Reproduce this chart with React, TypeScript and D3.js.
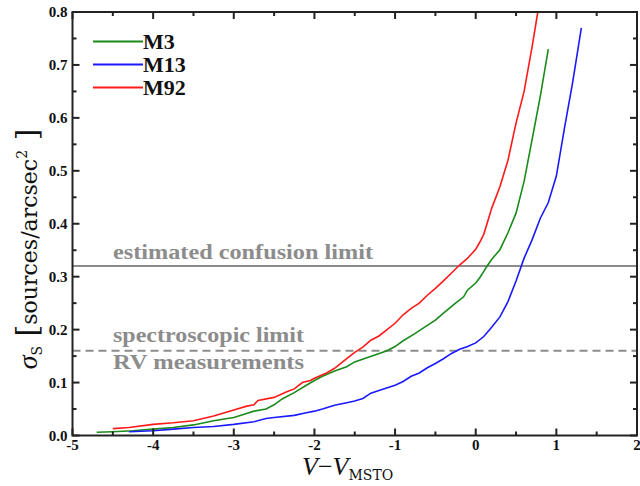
import React from "react";
import * as d3 from "d3";

const m92X = [-4.5, -4.3, -4.0, -3.75, -3.5, -3.25, -3.0, -2.85, -2.75, -2.7, -2.5, -2.35, -2.25, -2.15, -2.05, -2.0, -1.85, -1.75, -1.6, -1.5, -1.4, -1.3, -1.2, -1.1, -1.0, -0.9, -0.8, -0.7, -0.6, -0.5, -0.4, -0.3, -0.2, -0.1, 0.0, 0.05, 0.1, 0.2, 0.3, 0.4, 0.5, 0.6, 0.7, 0.77];
const m92Y = [0.013, 0.015, 0.021, 0.024, 0.028, 0.037, 0.048, 0.055, 0.058, 0.066, 0.072, 0.082, 0.088, 0.1, 0.104, 0.108, 0.118, 0.127, 0.145, 0.157, 0.167, 0.18, 0.188, 0.2, 0.212, 0.228, 0.24, 0.25, 0.265, 0.278, 0.292, 0.307, 0.322, 0.335, 0.352, 0.365, 0.38, 0.43, 0.47, 0.52, 0.59, 0.65, 0.735, 0.8];

const m3X = [-4.7, -4.5, -4.25, -4.0, -3.75, -3.5, -3.25, -3.0, -2.85, -2.75, -2.6, -2.5, -2.4, -2.25, -2.1, -2.0, -1.9, -1.75, -1.6, -1.5, -1.35, -1.25, -1.1, -1.0, -0.9, -0.75, -0.6, -0.5, -0.4, -0.25, -0.15, -0.1, 0.0, 0.05, 0.1, 0.15, 0.2, 0.3, 0.4, 0.5, 0.6, 0.7, 0.8, 0.9];
const m3Y = [0.006, 0.007, 0.009, 0.012, 0.015, 0.02, 0.028, 0.034, 0.041, 0.046, 0.05, 0.058, 0.069, 0.081, 0.095, 0.104, 0.112, 0.122, 0.13, 0.139, 0.147, 0.152, 0.16, 0.168, 0.179, 0.193, 0.208, 0.218, 0.231, 0.25, 0.262, 0.275, 0.288, 0.298, 0.31, 0.322, 0.333, 0.351, 0.383, 0.42, 0.48, 0.56, 0.64, 0.73];

const m13X = [-4.3, -4.0, -3.75, -3.5, -3.25, -3.0, -2.75, -2.6, -2.5, -2.25, -2.1, -2.0, -1.9, -1.75, -1.6, -1.5, -1.4, -1.3, -1.2, -1.0, -0.9, -0.8, -0.7, -0.6, -0.5, -0.4, -0.3, -0.2, -0.1, 0.0, 0.1, 0.2, 0.3, 0.4, 0.5, 0.6, 0.7, 0.8, 0.9, 1.0, 1.1, 1.2, 1.31];
const m13Y = [0.007, 0.009, 0.012, 0.015, 0.017, 0.021, 0.026, 0.032, 0.034, 0.038, 0.043, 0.046, 0.05, 0.057, 0.062, 0.065, 0.07, 0.08, 0.085, 0.095, 0.102, 0.112, 0.118, 0.128, 0.136, 0.145, 0.155, 0.163, 0.168, 0.175, 0.187, 0.205, 0.224, 0.253, 0.292, 0.335, 0.37, 0.41, 0.44, 0.49, 0.58, 0.665, 0.77];

const seriesNames = ["M3", "M13", "M92"];
const seriesColors = ["#1a8a1a", "#1a1aff", "#ff1a1a"];

const xTicks = [-5, -4, -3, -2, -1, 0, 1, 2];
const yTicks = [0.0, 0.1, 0.2, 0.3, 0.4, 0.5, 0.6, 0.7, 0.8];
const confusionLimit = 0.32;
const spectroLimit = 0.16;

export default function App() {
  const W = 640, H = 486;
  const left = 72.5, right = 637, top = 12, bottom = 435.5;
  const x = d3.scaleLinear().domain([-5, 2]).range([left, right]);
  const y = d3.scaleLinear().domain([0, 0.8]).range([bottom, top]);
  const line = d3.line<[number, number]>().x(d => x(d[0])).y(d => y(d[1]));
  const toPts = (xs: number[], ys: number[]) => xs.map((v, i) => [v, ys[i]] as [number, number]);
  const series = [toPts(m3X, m3Y), toPts(m13X, m13Y), toPts(m92X, m92Y)];

  const xMinor = d3.range(-4.5, 2, 1);
  const yMinor = d3.range(0.05, 0.8, 0.1);
  const tickFont = "'Liberation Serif', 'Times New Roman', serif";
  const wideFont = "'DejaVu Serif', serif";
  const gray = "#8c8c8c";

  return (
    <svg width={W} height={H} style={{ position: "absolute", left: 0, top: 0, background: "#fff" }}>
      {/* reference lines */}
      <line x1={left} x2={right} y1={y(confusionLimit)} y2={y(confusionLimit)} stroke={gray} strokeWidth={2} />
      <line x1={left} x2={right} y1={y(spectroLimit)} y2={y(spectroLimit)} stroke={gray} strokeWidth={2} strokeDasharray="8,5" />
      <g fontFamily={tickFont} fontWeight="bold" fontSize={21} fill={gray}>
        <text x={113} y={259} textLength={260} lengthAdjust="spacingAndGlyphs">estimated confusion limit</text>
        <text x={113} y={342} textLength={191} lengthAdjust="spacingAndGlyphs">spectroscopic limit</text>
        <text x={113} y={369} textLength={191} lengthAdjust="spacingAndGlyphs">RV measurements</text>
      </g>

      {/* curves */}
      {series.map((s, i) => (
        <path key={i} d={line(s) || ""} fill="none" stroke={seriesColors[i]} strokeWidth={1.6} />
      ))}

      {/* frame */}
      <rect x={left} y={top} width={right - left} height={bottom - top} fill="none" stroke="#222" strokeWidth={2} />

      {/* ticks */}
      <g stroke="#222" strokeWidth={2}>
        {xTicks.map(t => (
          <g key={"xt" + t}>
            <line x1={x(t)} x2={x(t)} y1={bottom} y2={bottom - 7} />
            <line x1={x(t)} x2={x(t)} y1={top} y2={top + 7} />
          </g>
        ))}
        {xMinor.map(t => (
          <g key={"xm" + t}>
            <line x1={x(t)} x2={x(t)} y1={bottom} y2={bottom - 4} />
            <line x1={x(t)} x2={x(t)} y1={top} y2={top + 4} />
          </g>
        ))}
        {yTicks.map(t => (
          <g key={"yt" + t}>
            <line x1={left} x2={left + 7} y1={y(t)} y2={y(t)} />
            <line x1={right} x2={right - 7} y1={y(t)} y2={y(t)} />
          </g>
        ))}
        {yMinor.map(t => (
          <g key={"ym" + t}>
            <line x1={left} x2={left + 4} y1={y(t)} y2={y(t)} />
            <line x1={right} x2={right - 4} y1={y(t)} y2={y(t)} />
          </g>
        ))}
      </g>

      {/* tick labels */}
      <g fontFamily={tickFont} fontWeight="bold" fontSize={15} fill="#111">
        {xTicks.map(t => (
          <text key={"xl" + t} x={x(t)} y={bottom + 14} textAnchor="middle">{t}</text>
        ))}
        {yTicks.map(t => (
          <text key={"yl" + t} x={left - 5} y={y(t) + 5} textAnchor="end">{t.toFixed(1)}</text>
        ))}
      </g>

      {/* axis titles */}
      <text x={302} y={475} fontFamily={tickFont} fontSize={26} fill="#111">
        <tspan fontStyle="italic">V</tspan>
        <tspan>−</tspan>
        <tspan fontStyle="italic">V</tspan>
        <tspan fontFamily={wideFont} fontSize={14} dy={5}>MSTO</tspan>
      </text>
      <text transform="translate(37,249) rotate(-90)" textAnchor="middle" fontFamily={wideFont} fontSize={22} fill="#111">
        <tspan fontStyle="italic" fontFamily={tickFont} fontSize={28}>σ</tspan>
        <tspan fontSize={14} dy={5}>S</tspan>
        <tspan dy={-5} fontSize={30} fontWeight="200"> [</tspan>
        <tspan>sources/arcsec</tspan>
        <tspan fontSize={14} dy={-10}>2</tspan>
        <tspan dy={10} fontSize={30} fontWeight="200"> ]</tspan>
      </text>

      {/* legend */}
      {seriesNames.map((n, i) => {
        const ly = 41.5 + i * 23;
        return (
          <g key={n}>
            <line x1={93} x2={143} y1={ly} y2={ly} stroke={seriesColors[i]} strokeWidth={2} />
            <text x={143} y={ly + 7.5} fontFamily={tickFont} fontWeight="bold" fontSize={22} fill="#111">{n}</text>
          </g>
        );
      })}
    </svg>
  );
}
